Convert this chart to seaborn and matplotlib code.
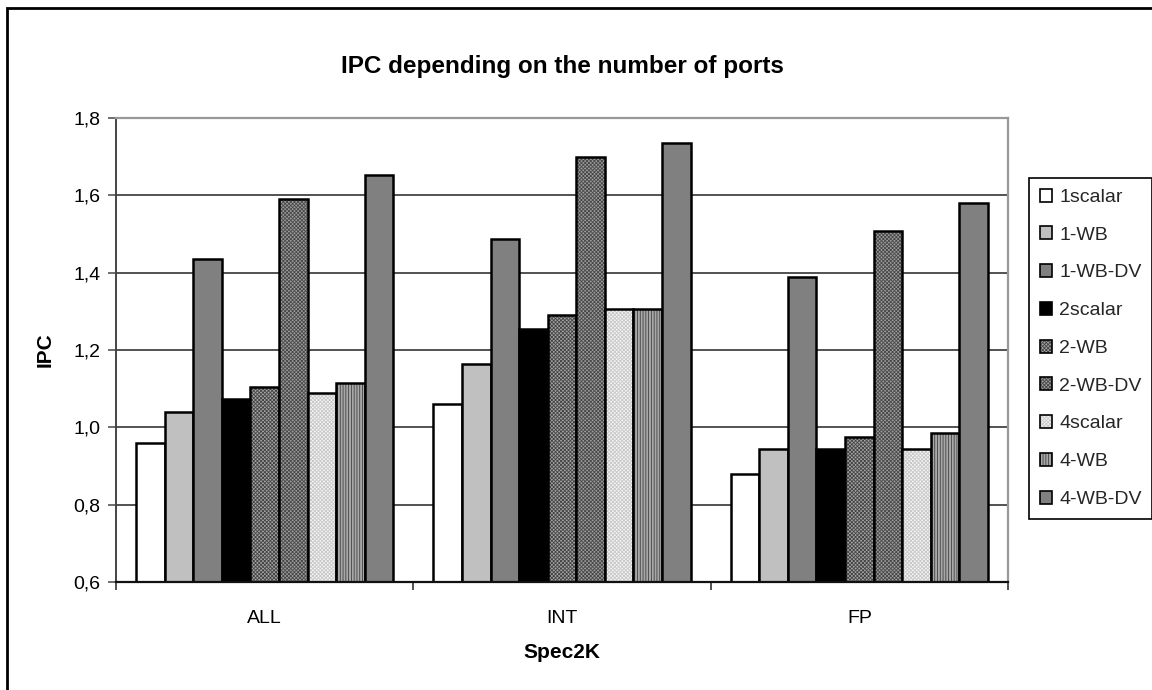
import matplotlib
matplotlib.use("Agg")
import matplotlib.pyplot as plt
from matplotlib.colors import to_rgba
from matplotlib.patches import Rectangle
from matplotlib.ticker import FuncFormatter, FixedLocator
import seaborn as sns
import pandas as pd

# Benchmark groups and configurations
categories = ["ALL", "INT", "FP"]
series = ["1scalar", "1-WB", "1-WB-DV", "2scalar", "2-WB", "2-WB-DV",
          "4scalar", "4-WB", "4-WB-DV"]

# IPC per configuration, one list per group
ipc_all = [0.96, 1.04, 1.435, 1.073, 1.105, 1.59, 1.09, 1.115, 1.652]
ipc_int = [1.06, 1.165, 1.487, 1.255, 1.29, 1.70, 1.305, 1.305, 1.735]
ipc_fp = [0.88, 0.945, 1.39, 0.945, 0.975, 1.507, 0.945, 0.985, 1.58]

y_ticks = [0.6, 0.8, 1.0, 1.2, 1.4, 1.6, 1.8]

# Fill style per configuration: (face colour, hatch, hatch colour)
styles = {
    "1scalar": ("#ffffff", None, None),
    "1-WB": ("#c0c0c0", None, None),
    "1-WB-DV": ("#808080", None, None),
    "2scalar": ("#000000", None, None),
    "2-WB": ("#a4a4a4", "xxxxxxxxx", "#444444"),
    "2-WB-DV": ("#9c9c9c", "xxxxxxxxx", "#484848"),
    "4scalar": ("#f4f4f4", "xxxxxxxxx", "#c8c8c8"),
    "4-WB": ("#a8a8a8", "||||||", "#404040"),
    "4-WB-DV": ("#808080", None, None),
}


def apply_fill(patch, hatch, hcol):
    if not hatch:
        return
    patch.set_hatch(hatch)
    if hasattr(patch, "set_hatchcolor"):
        patch.set_hatchcolor(hcol)
    else:
        patch._hatch_color = to_rgba(hcol)
    patch.stale = True


rows = []
for cat, vals in zip(categories, [ipc_all, ipc_int, ipc_fp]):
    for s, v in zip(series, vals):
        rows.append({"group": cat, "config": s, "ipc": v})
df = pd.DataFrame(rows)

sns.set_theme(style="white")
plt.rcParams["font.family"] = ["Liberation Sans", "DejaVu Sans"]
plt.rcParams["hatch.linewidth"] = 0.6

fig = plt.figure(figsize=(11.52, 6.90), dpi=100)
ax = fig.add_axes([116 / 1152, 1 - 582 / 690, (1008 - 116) / 1152, (582 - 118) / 690])

palette = {s: styles[s][0] for s in series}
sns.barplot(data=df, x="group", y="ipc", hue="config", order=categories,
            hue_order=series, palette=palette, saturation=1, width=0.865,
            edgecolor="black", linewidth=1.8, ax=ax, legend=False)

for cont, s in zip(ax.containers, series):
    _, hatch, hcol = styles[s]
    for p in cont.patches:
        apply_fill(p, hatch, hcol)

ax.set_ylim(0.6, 1.8)
ax.set_xlim(-0.5, 2.5)
ax.set_yticks(y_ticks)
ax.yaxis.set_major_formatter(FuncFormatter(lambda v, _: f"{v:.1f}".replace(".", ",")))
ax.yaxis.grid(True, color="#444444", linewidth=1.3)
ax.set_axisbelow(True)

# Category boundary ticks on the x axis
ax.xaxis.set_minor_locator(FixedLocator([-0.5, 0.5, 1.5, 2.5]))
ax.tick_params(axis="x", which="major", length=0, pad=20, labelsize=14, colors="black")
ax.tick_params(axis="x", which="minor", bottom=True, length=6, width=1.2, color="#333333")
ax.tick_params(axis="y", left=True, length=6, width=1.2, color="#555555", pad=5,
               labelsize=14, labelcolor="black")

for side in ["top", "right"]:
    ax.spines[side].set_color("#999999")
    ax.spines[side].set_linewidth(1.6)
ax.spines["left"].set_color("#444444")
ax.spines["left"].set_linewidth(1.4)
ax.spines["bottom"].set_color("#111111")
ax.spines["bottom"].set_linewidth(1.6)

ax.set_xlabel("Spec2K", fontsize=15, fontweight="bold", color="black")
ax.xaxis.set_label_coords(0.5, -(652 - 582) / 464)
ax.xaxis.label.set_va("center")
ax.set_ylabel("IPC", fontsize=15, fontweight="bold", color="black")
ax.yaxis.set_label_coords(-(116 - 45) / 892, 0.5)
ax.yaxis.label.set_va("center")

fig.text(562 / 1152, 1 - 67 / 690, "IPC depending on the number of ports",
         ha="center", va="center", fontsize=17.5, fontweight="bold", color="black")

# Legend built from the bar containers
handles = [cont.patches[0] for cont in ax.containers]
leg = fig.legend(handles, series, loc="upper left",
                 bbox_to_anchor=(1029 / 1152, 1 - 178 / 690),
                 frameon=True, fancybox=False, framealpha=1, edgecolor="black",
                 fontsize=14, handlelength=0.65, handleheight=0.65,
                 handletextpad=0.35, labelspacing=1.05, borderpad=0.55,
                 borderaxespad=0)
leg.get_frame().set_linewidth(1.2)
for h, s in zip(leg.legend_handles, series):
    h.set_linewidth(1.2)
    apply_fill(h, styles[s][1], styles[s][2])

# Outer chart frame
fig.patches.append(Rectangle((7 / 1152, -0.1), 1.2, 1 - 8 / 690 + 0.1,
                             transform=fig.transFigure, fill=False,
                             edgecolor="black", linewidth=2))

fig.savefig("out.png", dpi=100)
